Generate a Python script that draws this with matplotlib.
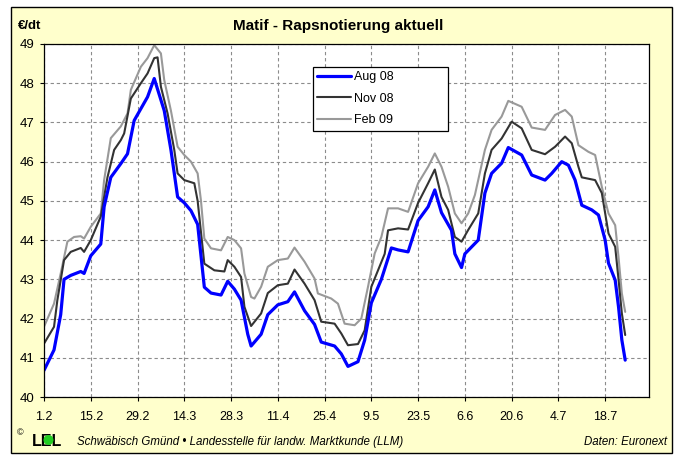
import matplotlib
matplotlib.use("Agg")
import pandas as pd
import matplotlib.pyplot as plt
from matplotlib.patches import Rectangle, Ellipse

plt.rcParams['font.family'] = ['Liberation Sans', 'DejaVu Sans']

# Daten (Tag.Monat 2008, Euro je dt)
aug_dates = ["1.2", "4.2", "6.2", "7.2", "9.2", "12.2", "13.2", "15.2", "18.2", "19.2",
             "21.2", "24.2", "26.2", "28.2", "3.3", "5.3", "8.3", "10.3", "12.3", "14.3",
             "16.3", "18.3", "19.3", "20.3", "22.3", "25.3", "27.3", "29.3", "31.3", "2.4",
             "3.4", "6.4", "8.4", "11.4", "14.4", "16.4", "19.4", "22.4", "24.4", "28.4",
             "30.4", "2.5", "5.5", "7.5", "9.5", "12.5", "15.5", "17.5", "20.5", "23.5",
             "26.5", "28.5", "30.5", "2.6", "3.6", "5.6", "6.6", "10.6", "12.6", "14.6",
             "17.6", "19.6", "23.6", "26.6", "30.6", "2.7", "5.7", "7.7", "9.7", "11.7",
             "14.7", "16.7", "18.7", "19.7", "21.7", "22.7", "23.7", "24.7"]
aug_vals = [40.68, 41.2, 42.1, 43.0, 43.1, 43.2, 43.15, 43.6, 43.9, 44.85,
            45.6, 45.95, 46.2, 47.05, 47.65, 48.12, 47.3, 46.3, 45.1, 44.95,
            44.75, 44.4, 43.6, 42.8, 42.65, 42.6, 42.95, 42.75, 42.47, 41.6,
            41.3, 41.6, 42.1, 42.35, 42.43, 42.68, 42.2, 41.85, 41.4, 41.3,
            41.1, 40.78, 40.9, 41.45, 42.4, 43.0, 43.8, 43.75, 43.7, 44.5,
            44.85, 45.28, 44.7, 44.25, 43.65, 43.3, 43.65, 44.0, 45.2, 45.7,
            45.96, 46.36, 46.17, 45.66, 45.53, 45.7, 46.0, 45.91, 45.53, 44.89,
            44.77, 44.64, 44.0, 43.41, 42.98, 42.3, 41.45, 40.94]

nov_dates = ["1.2", "4.2", "5.2", "7.2", "9.2", "12.2", "13.2", "15.2", "18.2", "20.2",
             "22.2", "24.2", "25.2", "27.2", "1.3", "3.3", "5.3", "6.3", "7.3", "9.3",
             "11.3", "12.3", "14.3", "17.3", "18.3", "19.3", "20.3", "23.3", "26.3", "27.3",
             "29.3", "31.3", "1.4", "3.4", "6.4", "8.4", "11.4", "14.4", "16.4", "19.4",
             "22.4", "24.4", "28.4", "30.4", "2.5", "5.5", "7.5", "9.5", "11.5", "13.5",
             "14.5", "17.5", "20.5", "23.5", "26.5", "28.5", "30.5", "1.6", "3.6", "5.6",
             "7.6", "10.6", "12.6", "14.6", "17.6", "20.6", "23.6", "26.6", "30.6", "3.7",
             "6.7", "8.7", "10.7", "11.7", "15.7", "17.7", "19.7", "21.7", "22.7", "23.7",
             "24.7"]
nov_vals = [41.36, 41.79, 42.47, 43.49, 43.7, 43.8, 43.7, 44.0, 44.6, 45.6,
            46.3, 46.55, 46.72, 47.61, 48.0, 48.25, 48.64, 48.66, 47.91, 47.23,
            46.3, 45.7, 45.53, 45.45, 45.0, 44.2, 43.4, 43.23, 43.2, 43.49,
            43.32, 43.06, 42.3, 41.81, 42.13, 42.65, 42.85, 42.89, 43.25, 42.89,
            42.47, 41.92, 41.87, 41.62, 41.32, 41.35, 41.7, 42.81, 43.23, 43.65,
            44.25, 44.3, 44.27, 44.95, 45.45, 45.8, 45.1, 44.77, 44.08, 43.96,
            44.26, 44.68, 45.7, 46.3, 46.59, 47.02, 46.85, 46.3, 46.19, 46.38,
            46.64, 46.47, 45.87, 45.6, 45.53, 45.2, 44.17, 43.83, 43.0, 42.13,
            41.58]

feb_dates = ["1.2", "4.2", "6.2", "8.2", "10.2", "12.2", "13.2", "15.2", "18.2", "19.2",
             "21.2", "24.2", "26.2", "27.2", "1.3", "3.3", "5.3", "7.3", "8.3", "10.3",
             "12.3", "14.3", "16.3", "18.3", "19.3", "20.3", "22.3", "25.3", "27.3", "29.3",
             "31.3", "1.4", "3.4", "4.4", "6.4", "8.4", "11.4", "14.4", "16.4", "19.4",
             "22.4", "23.4", "27.4", "29.4", "1.5", "4.5", "6.5", "8.5", "10.5", "12.5",
             "14.5", "17.5", "20.5", "23.5", "26.5", "28.5", "30.5", "1.6", "3.6", "5.6",
             "7.6", "9.6", "12.6", "14.6", "17.6", "19.6", "23.6", "26.6", "30.6", "3.7",
             "6.7", "8.7", "10.7", "13.7", "15.7", "17.7", "19.7", "21.7", "22.7", "23.7",
             "24.7"]
feb_vals = [41.79, 42.38, 43.15, 43.96, 44.08, 44.1, 44.04, 44.34, 44.68, 45.53,
            46.6, 46.9, 47.23, 47.83, 48.42, 48.64, 48.97, 48.76, 48.08, 47.3,
            46.38, 46.17, 46.0, 45.7, 45.0, 44.04, 43.79, 43.74, 44.08, 44.0,
            43.79, 43.15, 42.55, 42.51, 42.81, 43.32, 43.49, 43.53, 43.81, 43.45,
            43.02, 42.64, 42.51, 42.38, 41.87, 41.83, 42.0, 42.81, 43.66, 44.08,
            44.81, 44.81, 44.72, 45.45, 45.87, 46.21, 45.87, 45.36, 44.68, 44.43,
            44.68, 45.15, 46.3, 46.81, 47.15, 47.55, 47.4, 46.87, 46.81, 47.19,
            47.32, 47.15, 46.42, 46.25, 46.17, 45.36, 44.68, 44.38, 43.57, 42.64,
            42.17]

tick_labels = ["1.2", "15.2", "29.2", "14.3", "28.3", "11.4", "25.4", "9.5",
               "23.5", "6.6", "20.6", "4.7", "18.7"]
y_ticks = [40, 41, 42, 43, 44, 45, 46, 47, 48, 49]


def to_dates(lst):
    return pd.to_datetime([s + ".2008" for s in lst], format="%d.%m.%Y")


W, H = 675, 457


def fx(x):
    return x / W


def fy(y):
    return 1 - y / H


fig = plt.figure(figsize=(6.75, 4.57), dpi=100)
fig.patch.set_facecolor("white")
fig.patches.append(Rectangle((fx(11), fy(453)), (672 - 11) / W, (453 - 7) / H,
                             transform=fig.transFigure, facecolor="#FFFFCC",
                             edgecolor="black", lw=1, zorder=-5))

ax = fig.add_axes([fx(44), fy(397), (649 - 44) / W, (397 - 44) / H])
ax.set_facecolor("white")
ax.set_zorder(1)

style = dict(solid_joinstyle="round", solid_capstyle="round")
l_feb, = ax.plot(to_dates(feb_dates), feb_vals, color="#999999", lw=1.5, label="Feb 09", **style)
l_nov, = ax.plot(to_dates(nov_dates), nov_vals, color="#333333", lw=1.5, label="Nov 08", **style)
l_aug, = ax.plot(to_dates(aug_dates), aug_vals, color="#0000FF", lw=2.3, label="Aug 08", **style)

ax.set_xlim(pd.Timestamp("2008-02-01"), pd.Timestamp("2008-07-31 03:00"))
ax.set_ylim(40, 49)
ax.set_xticks(to_dates(tick_labels))
ax.set_xticklabels(tick_labels)
ax.set_yticks(y_ticks)
ax.tick_params(axis="x", direction="out", length=3, width=0.8, labelsize=9, pad=7)
ax.tick_params(axis="y", direction="out", length=3, width=0.8, labelsize=9.5, pad=4)
ax.grid(True, color="#8c8c8c", linestyle=(0, (3, 2.5)), lw=0.8)
ax.set_axisbelow(True)
for sp in ax.spines.values():
    sp.set_linewidth(0.9)
    sp.set_color("black")

leg = ax.legend(handles=[l_aug, l_nov, l_feb], loc="upper left",
                bbox_to_anchor=(fx(313), fy(136), (448 - 313) / W, (136 - 67) / H),
                bbox_transform=fig.transFigure, mode="expand", borderaxespad=0,
                fontsize=9, handlelength=2.7, handletextpad=0.2, labelspacing=0.75,
                borderpad=0.35, fancybox=False, framealpha=1)
leg.get_frame().set_edgecolor("black")
leg.get_frame().set_linewidth(0.9)

fig.text(fx(338), fy(26), "Matif - Rapsnotierung aktuell", ha="center", va="center",
         fontsize=11, fontweight="bold")
fig.text(fx(18), fy(26), "€/dt", ha="left", va="center", fontsize=9.5, fontweight="bold")

# Fußzeile mit Logo
fig.text(fx(17), fy(433), "©", ha="left", va="center", fontsize=6.5)
fig.text(fx(32), fy(441), "LEL", ha="left", va="center", fontsize=11.5, fontweight="bold")
fig.patches.append(Ellipse((fx(48.5), fy(440)), 10 / W, 10 / H, transform=fig.transFigure,
                           facecolor="#22CC22", edgecolor="none", zorder=5))
fig.text(fx(77), fy(442), "Schwäbisch Gmünd • Landesstelle für landw. Marktkunde (LLM)",
         ha="left", va="center", fontsize=8.3, fontstyle="italic")
fig.text(fx(667), fy(442), "Daten: Euronext", ha="right", va="center", fontsize=8.3,
         fontstyle="italic")

fig.savefig("out.png", dpi=100)
